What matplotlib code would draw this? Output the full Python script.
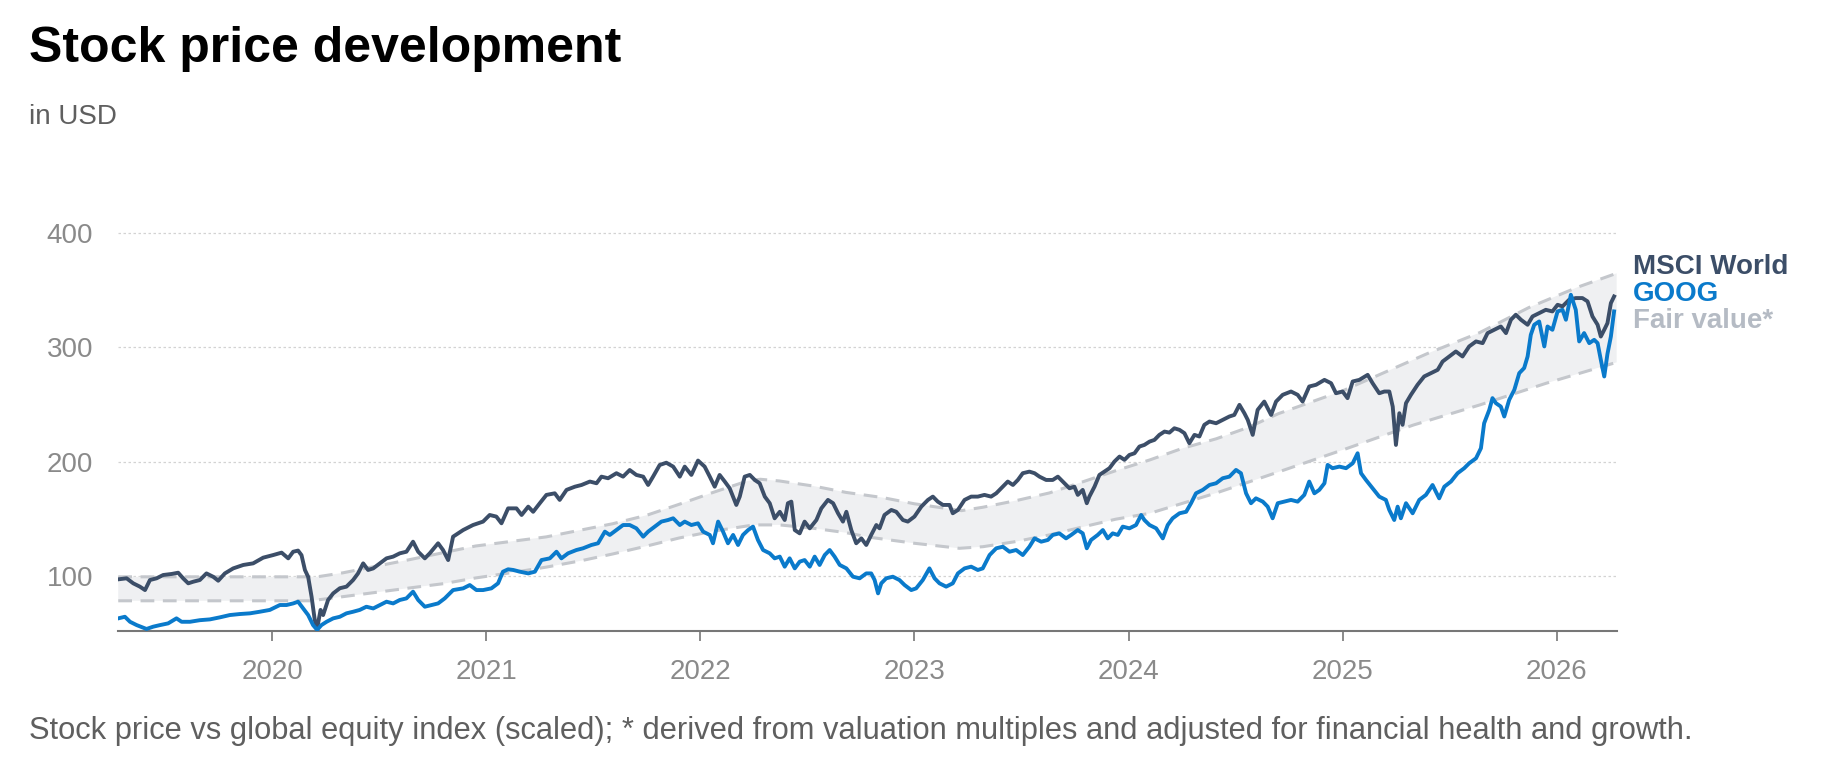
import numpy as np
import matplotlib.pyplot as plt

plt.rcParams['font.family'] = ['Liberation Sans', 'DejaVu Sans']

# MSCI World (scaled)
msci_year = [
    2019.281, 2019.320, 2019.351, 2019.382, 2019.406, 2019.429, 2019.460, 2019.491, 2019.530, 2019.561,
    2019.584, 2019.608, 2019.631, 2019.662, 2019.693, 2019.725, 2019.748, 2019.779, 2019.818, 2019.865,
    2019.911, 2019.958, 2020.005, 2020.044, 2020.075, 2020.098, 2020.121, 2020.137, 2020.153, 2020.168,
    2020.184, 2020.199, 2020.210, 2020.226, 2020.238, 2020.261, 2020.285, 2020.316, 2020.347, 2020.378,
    2020.401, 2020.425, 2020.448, 2020.472, 2020.503, 2020.534, 2020.565, 2020.596, 2020.627, 2020.658,
    2020.682, 2020.713, 2020.736, 2020.775, 2020.798, 2020.822, 2020.845, 2020.892, 2020.938, 2020.985,
    2021.016, 2021.047, 2021.071, 2021.102, 2021.141, 2021.165, 2021.196, 2021.219, 2021.250, 2021.281,
    2021.320, 2021.343, 2021.375, 2021.414, 2021.445, 2021.484, 2021.515, 2021.538, 2021.569, 2021.608,
    2021.639, 2021.670, 2021.701, 2021.733, 2021.756, 2021.779, 2021.810, 2021.841, 2021.873, 2021.904,
    2021.927, 2021.958, 2021.989, 2022.020, 2022.044, 2022.067, 2022.090, 2022.114, 2022.137, 2022.168,
    2022.184, 2022.207, 2022.231, 2022.254, 2022.277, 2022.301, 2022.324, 2022.347, 2022.371, 2022.394,
    2022.409, 2022.425, 2022.441, 2022.464, 2022.487, 2022.511, 2022.542, 2022.565, 2022.596, 2022.620,
    2022.643, 2022.666, 2022.682, 2022.705, 2022.728, 2022.752, 2022.775, 2022.798, 2022.822, 2022.837,
    2022.860, 2022.892, 2022.915, 2022.946, 2022.969, 2023.000, 2023.032, 2023.063, 2023.086, 2023.109,
    2023.133, 2023.164, 2023.179, 2023.203, 2023.234, 2023.265, 2023.296, 2023.327, 2023.358, 2023.382,
    2023.405, 2023.436, 2023.460, 2023.483, 2023.506, 2023.537, 2023.561, 2023.584, 2023.615, 2023.646,
    2023.670, 2023.693, 2023.724, 2023.747, 2023.763, 2023.786, 2023.805, 2023.817, 2023.841, 2023.864,
    2023.887, 2023.911, 2023.934, 2023.958, 2023.981, 2024.004, 2024.028, 2024.051, 2024.074, 2024.098,
    2024.121, 2024.144, 2024.168, 2024.191, 2024.214, 2024.238, 2024.261, 2024.284, 2024.308, 2024.331,
    2024.354, 2024.378, 2024.409, 2024.440, 2024.471, 2024.494, 2024.518, 2024.541, 2024.557, 2024.580,
    2024.603, 2024.634, 2024.666, 2024.689, 2024.720, 2024.759, 2024.790, 2024.813, 2024.844, 2024.876,
    2024.915, 2024.946, 2024.969, 2025.000, 2025.023, 2025.047, 2025.078, 2025.117, 2025.140, 2025.171,
    2025.195, 2025.218, 2025.234, 2025.249, 2025.265, 2025.280, 2025.296, 2025.319, 2025.350, 2025.381,
    2025.413, 2025.444, 2025.467, 2025.498, 2025.529, 2025.560, 2025.591, 2025.623, 2025.654, 2025.677,
    2025.708, 2025.739, 2025.763, 2025.786, 2025.809, 2025.833, 2025.864, 2025.887, 2025.918, 2025.949,
    2025.980, 2026.004, 2026.027, 2026.058, 2026.089, 2026.120, 2026.144, 2026.167, 2026.191, 2026.206,
    2026.222, 2026.237, 2026.253, 2026.268,
]
msci = [
    96.8, 97.7, 93.3, 90.4, 87.4, 96.2, 97.7, 100.6, 101.5, 102.6,
    97.7, 93.3, 94.7, 96.2, 102.0, 99.0, 95.6, 102.0, 106.4, 109.4,
    110.8, 115.8, 118.1, 120.2, 115.2, 121.0, 122.0, 118.0, 105.0, 99.0,
    81.6, 61.0, 53.8, 70.0, 65.5, 78.7, 84.5, 89.0, 90.4, 96.2,
    102.0, 110.8, 105.0, 106.4, 110.8, 115.2, 116.7, 119.6, 121.0, 129.8,
    121.0, 115.2, 119.6, 128.4, 122.5, 113.7, 134.2, 140.0, 144.4, 147.4,
    153.2, 151.8, 145.9, 159.0, 159.0, 153.2, 160.5, 156.0, 163.5, 170.8,
    172.2, 166.4, 175.2, 178.0, 179.5, 182.5, 181.0, 186.8, 185.4, 189.8,
    186.8, 192.6, 188.3, 186.8, 179.5, 186.8, 197.0, 199.0, 195.6, 186.8,
    195.6, 188.3, 200.9, 195.6, 186.8, 178.0, 188.3, 182.5, 176.6, 162.0,
    169.3, 186.8, 188.3, 183.9, 181.0, 169.3, 163.5, 150.3, 156.0, 148.8,
    163.5, 164.9, 140.0, 137.1, 147.4, 141.5, 148.8, 159.0, 166.4, 163.5,
    154.7, 147.4, 156.0, 140.0, 128.4, 132.7, 126.9, 135.7, 144.4, 141.5,
    153.2, 157.6, 156.0, 148.8, 147.4, 151.8, 160.5, 166.4, 169.3, 164.9,
    162.0, 162.0, 154.7, 157.6, 166.4, 169.3, 169.3, 170.8, 169.3, 172.2,
    176.6, 182.5, 179.5, 183.9, 189.8, 191.2, 189.8, 186.8, 183.9, 183.9,
    186.8, 182.5, 176.6, 178.0, 170.8, 175.2, 163.5, 169.3, 178.0, 188.3,
    191.2, 194.2, 200.0, 204.4, 201.5, 205.8, 207.3, 213.2, 214.6, 217.5,
    219.0, 223.4, 226.3, 225.4, 229.2, 227.8, 224.9, 216.1, 223.4, 222.0,
    232.2, 235.1, 233.6, 236.5, 239.5, 240.9, 249.7, 242.4, 236.5, 223.4,
    245.3, 252.6, 240.9, 252.6, 258.5, 261.4, 258.5, 252.6, 265.8, 267.3,
    271.6, 268.7, 259.9, 261.4, 255.6, 270.2, 271.6, 276.0, 268.7, 259.9,
    261.4, 261.4, 248.2, 214.6, 242.4, 232.2, 251.2, 258.5, 267.3, 274.6,
    277.5, 280.4, 287.7, 292.1, 296.5, 292.1, 300.9, 305.3, 303.8, 312.6,
    315.5, 318.4, 312.6, 324.3, 328.7, 324.3, 319.9, 327.2, 330.1, 333.0,
    331.6, 337.4, 336.0, 341.8, 343.3, 343.3, 340.4, 327.2, 319.9, 309.6,
    315.5, 321.3, 338.9, 344.7,
]

# GOOG share price
goog_year = [
    2019.281, 2019.312, 2019.336, 2019.367, 2019.413, 2019.444, 2019.476, 2019.514, 2019.553, 2019.577,
    2019.616, 2019.662, 2019.709, 2019.756, 2019.802, 2019.849, 2019.896, 2019.942, 2019.989, 2020.036,
    2020.067, 2020.098, 2020.121, 2020.145, 2020.168, 2020.191, 2020.210, 2020.230, 2020.254, 2020.285,
    2020.316, 2020.347, 2020.378, 2020.409, 2020.440, 2020.472, 2020.503, 2020.534, 2020.565, 2020.596,
    2020.627, 2020.658, 2020.682, 2020.713, 2020.744, 2020.775, 2020.806, 2020.845, 2020.892, 2020.923,
    2020.954, 2020.985, 2021.024, 2021.055, 2021.078, 2021.102, 2021.126, 2021.157, 2021.196, 2021.227,
    2021.258, 2021.297, 2021.328, 2021.351, 2021.382, 2021.421, 2021.452, 2021.491, 2021.522, 2021.554,
    2021.577, 2021.608, 2021.639, 2021.670, 2021.701, 2021.733, 2021.756, 2021.787, 2021.818, 2021.849,
    2021.873, 2021.904, 2021.927, 2021.958, 2021.989, 2022.013, 2022.044, 2022.059, 2022.083, 2022.106,
    2022.129, 2022.153, 2022.176, 2022.199, 2022.223, 2022.246, 2022.269, 2022.293, 2022.324, 2022.347,
    2022.371, 2022.394, 2022.417, 2022.441, 2022.464, 2022.487, 2022.511, 2022.534, 2022.557, 2022.581,
    2022.604, 2022.627, 2022.651, 2022.682, 2022.713, 2022.744, 2022.775, 2022.798, 2022.814, 2022.830,
    2022.845, 2022.868, 2022.899, 2022.930, 2022.954, 2022.985, 2023.008, 2023.039, 2023.070, 2023.094,
    2023.117, 2023.148, 2023.179, 2023.203, 2023.234, 2023.265, 2023.296, 2023.319, 2023.351, 2023.382,
    2023.413, 2023.444, 2023.475, 2023.506, 2023.537, 2023.561, 2023.592, 2023.623, 2023.646, 2023.677,
    2023.708, 2023.732, 2023.763, 2023.786, 2023.805, 2023.825, 2023.856, 2023.880, 2023.903, 2023.926,
    2023.950, 2023.973, 2024.004, 2024.035, 2024.059, 2024.074, 2024.098, 2024.129, 2024.160, 2024.183,
    2024.206, 2024.238, 2024.269, 2024.292, 2024.315, 2024.347, 2024.378, 2024.409, 2024.440, 2024.471,
    2024.502, 2024.525, 2024.549, 2024.572, 2024.595, 2024.627, 2024.650, 2024.673, 2024.697, 2024.728,
    2024.759, 2024.790, 2024.821, 2024.844, 2024.868, 2024.891, 2024.915, 2024.930, 2024.953, 2024.985,
    2025.016, 2025.047, 2025.070, 2025.086, 2025.109, 2025.140, 2025.171, 2025.202, 2025.218, 2025.241,
    2025.257, 2025.272, 2025.296, 2025.327, 2025.358, 2025.389, 2025.420, 2025.451, 2025.475, 2025.506,
    2025.537, 2025.568, 2025.591, 2025.623, 2025.646, 2025.661, 2025.685, 2025.700, 2025.716, 2025.739,
    2025.755, 2025.778, 2025.802, 2025.825, 2025.848, 2025.864, 2025.879, 2025.895, 2025.918, 2025.942,
    2025.957, 2025.980, 2026.004, 2026.027, 2026.043, 2026.066, 2026.089, 2026.105, 2026.128, 2026.152,
    2026.175, 2026.191, 2026.206, 2026.222, 2026.237, 2026.253, 2026.268,
]
goog = [
    62.6, 64.0, 59.6, 56.7, 53.3, 55.3, 56.7, 58.2, 62.6, 59.6,
    59.6, 61.0, 61.7, 63.5, 65.5, 66.4, 67.0, 68.4, 70.0, 74.3,
    74.3, 75.7, 77.2, 71.3, 65.5, 56.7, 52.5, 56.7, 59.6, 62.6,
    64.0, 67.0, 68.4, 70.0, 72.8, 71.3, 74.3, 77.2, 75.7, 78.7,
    80.1, 86.0, 78.7, 72.8, 74.3, 75.7, 80.1, 87.4, 88.9, 91.8,
    87.4, 87.4, 88.9, 93.3, 103.5, 105.6, 105.0, 103.5, 102.0, 103.5,
    113.7, 115.2, 121.0, 115.2, 119.6, 122.5, 124.0, 126.9, 128.4, 138.6,
    135.7, 140.0, 144.4, 144.4, 141.5, 134.2, 138.6, 143.0, 147.4, 148.8,
    150.3, 144.4, 147.4, 144.4, 145.9, 138.6, 135.7, 128.4, 147.4, 138.6,
    128.4, 135.7, 126.9, 135.7, 140.0, 143.0, 131.3, 122.5, 119.6, 115.2,
    116.7, 107.9, 115.2, 106.4, 112.3, 113.7, 107.9, 116.7, 109.4, 118.1,
    122.5, 116.7, 109.4, 106.4, 99.1, 97.7, 102.0, 102.0, 96.2, 84.5,
    93.3, 97.7, 99.1, 96.2, 91.8, 87.4, 88.9, 96.2, 106.4, 97.7,
    93.3, 90.4, 93.3, 102.0, 106.4, 107.9, 105.0, 106.4, 118.1, 124.0,
    125.4, 121.0, 122.5, 118.1, 125.4, 132.7, 129.8, 131.3, 135.7, 137.1,
    132.7, 135.7, 140.0, 137.1, 124.0, 131.3, 135.7, 140.0, 132.7, 137.1,
    135.7, 143.0, 141.5, 144.4, 153.2, 148.8, 144.4, 141.5, 132.7, 144.4,
    150.3, 154.7, 156.0, 163.5, 172.2, 175.2, 179.5, 181.0, 185.4, 186.8,
    192.7, 189.8, 172.2, 163.5, 167.8, 164.9, 160.5, 150.3, 163.5, 164.9,
    166.4, 164.9, 170.8, 182.5, 172.2, 175.2, 181.0, 197.1, 194.2, 195.6,
    194.2, 198.5, 207.3, 189.8, 183.9, 176.6, 169.3, 166.4, 157.6, 148.8,
    160.5, 150.3, 163.5, 154.7, 166.4, 170.8, 179.5, 167.8, 178.0, 182.5,
    189.8, 194.2, 198.5, 202.9, 211.7, 233.6, 245.3, 255.6, 251.2, 248.2,
    239.5, 254.1, 262.9, 277.5, 282.0, 292.1, 311.1, 319.9, 322.8, 300.9,
    318.4, 315.5, 331.6, 333.0, 324.3, 346.2, 333.0, 305.3, 312.6, 303.8,
    306.7, 303.8, 289.2, 274.6, 294.4, 309.6, 331.6,
]

# fair value band (upper and lower bound)
fv_up_year = [2019.281, 2020.21, 2020.33, 2020.64, 2020.95, 2021.28, 2021.59, 2021.75, 2021.90, 2022.06,
              2022.22, 2022.28, 2022.37, 2022.53, 2022.68, 2022.85, 2023.00, 2023.22, 2023.32, 2023.48,
              2023.63, 2023.79, 2023.94, 2024.10, 2024.25, 2024.41, 2024.56, 2024.70, 2025.00, 2025.40,
              2025.64, 2025.87, 2026.10, 2026.28]
fv_up = [99.0, 99.0, 102.5, 114.0, 126.0, 134.0, 145.5, 153.0, 162.5, 173.0,
         183.0, 184.5, 183.0, 178.5, 173.0, 168.5, 163.0, 157.0, 160.0, 166.0,
         172.5, 182.5, 192.0, 201.5, 211.5, 220.0, 230.0, 242.0, 262.0, 295.0,
         313.0, 335.0, 353.0, 365.0]
fv_lo_year = [2019.281, 2020.18, 2020.33, 2020.49, 2020.64, 2020.80, 2020.95, 2021.13, 2021.28, 2021.44,
              2021.59, 2021.75, 2021.90, 2022.06, 2022.25, 2022.37, 2022.53, 2022.68, 2022.79, 2023.00,
              2023.21, 2023.32, 2023.47, 2023.63, 2023.79, 2023.94, 2024.10, 2024.25, 2024.41, 2024.56,
              2024.70, 2025.02, 2025.33, 2025.64, 2025.95, 2026.28]
fv_lo = [78.0, 78.0, 81.6, 85.5, 89.2, 93.0, 98.0, 103.0, 107.5, 113.0,
         119.0, 126.0, 133.0, 139.0, 144.5, 144.5, 141.5, 137.7, 133.7, 128.4,
         124.0, 125.4, 129.8, 135.7, 142.9, 149.5, 154.7, 163.3, 172.5, 182.0,
         190.9, 211.5, 232.0, 249.6, 268.6, 287.0]

tick_years = [2020, 2021, 2022, 2023, 2024, 2025, 2026]
tick_labels = ['2020', '2021', '2022', '2023', '2024', '2025', '2026']
y_ticks = [100, 200, 300, 400]

c_msci = '#3c4e68'
c_goog = '#0a7acb'
c_fair = '#b5bbc4'
c_dash = '#c4c7cc'
c_tick = '#8a8a8a'


def main():
    fig = plt.figure(figsize=(18.22, 7.6), dpi=100)
    ax = fig.add_axes([0.0649, 0.1697, 0.8224, 0.5408])

    band_x = np.concatenate([fv_up_year, fv_lo_year[::-1]])
    band_y = np.concatenate([fv_up, fv_lo[::-1]])
    ax.fill(band_x, band_y, color='#eff0f2', lw=0, zorder=1)
    ax.plot(fv_up_year, fv_up, color=c_dash, lw=2.2, ls=(0, (4.5, 2.8)), zorder=2)
    ax.plot(fv_lo_year, fv_lo, color=c_dash, lw=2.2, ls=(0, (4.5, 2.8)), zorder=2)

    ax.plot(msci_year, msci, color=c_msci, lw=2.8, zorder=3)
    ax.plot(goog_year, goog, color=c_goog, lw=2.8, zorder=4)

    ax.set_xlim(2019.281, 2026.28)
    ax.set_ylim(51.5, 411.7)
    ax.set_xticks(tick_years)
    ax.set_xticklabels(tick_labels)
    ax.set_yticks(y_ticks)

    ax.grid(axis='y', color='#d3d3d3', ls=(0, (2, 2)), lw=0.9)
    ax.set_axisbelow(True)
    for s in ['top', 'right', 'left']:
        ax.spines[s].set_visible(False)
    ax.spines['bottom'].set_color('#777777')
    ax.spines['bottom'].set_linewidth(1.5)
    ax.tick_params(axis='x', length=7, width=1.2, color='#777777', pad=13,
                   labelsize=20, labelcolor=c_tick)
    ax.tick_params(axis='y', length=0, pad=18, labelsize=20, labelcolor=c_tick)

    fig.text(0.0159, 0.9188, 'Stock price development', fontsize=36, fontweight='bold',
             color='black', va='baseline')
    fig.text(0.0159, 0.8368, 'in USD', fontsize=20, color='#5f5f5f', va='baseline')
    fig.text(0.0159, 0.0276, 'Stock price vs global equity index (scaled); * derived from valuation '
             'multiples and adjusted for financial health and growth.',
             fontsize=22.2, color='#5f5f5f', va='baseline')

    fig.text(0.8963, 0.6395, 'MSCI World', fontsize=20, fontweight='bold', color=c_msci, va='baseline')
    fig.text(0.8963, 0.6039, 'GOOG', fontsize=20, fontweight='bold', color=c_goog, va='baseline')
    fig.text(0.8963, 0.5680, 'Fair value*', fontsize=20, fontweight='bold', color=c_fair, va='baseline')

    fig.savefig('out.png', dpi=100)


if __name__ == "__main__":
    main()
